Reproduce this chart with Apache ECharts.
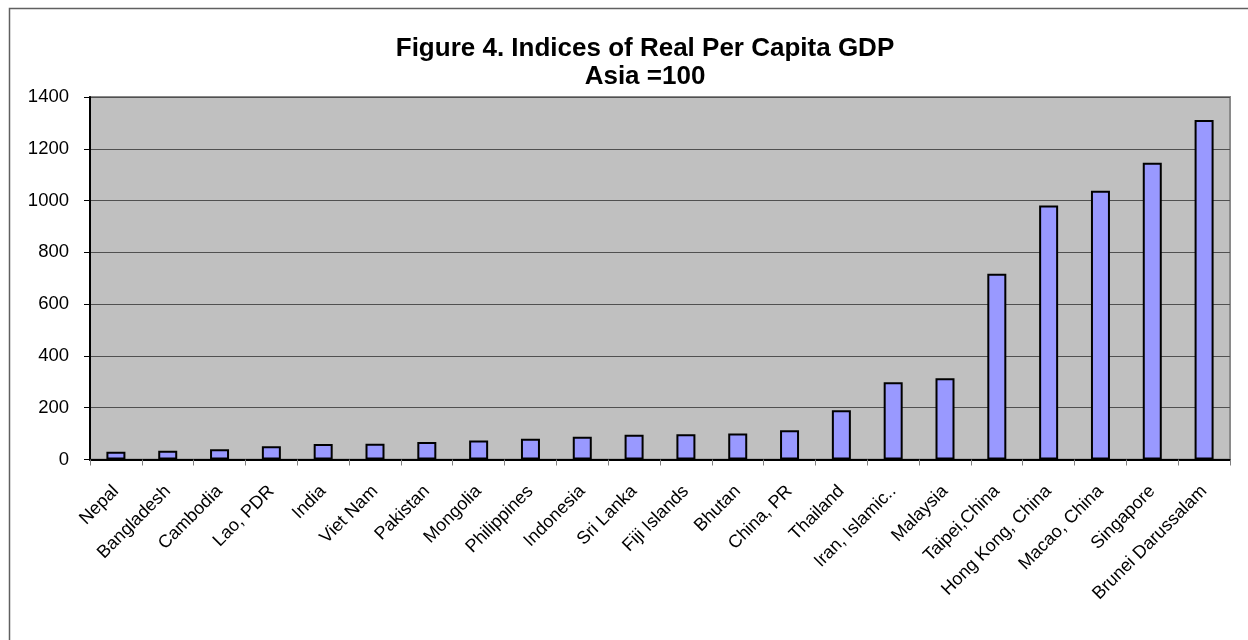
<!DOCTYPE html>
<html>
<head>
<meta charset="utf-8">
<script src="https://cdn.jsdelivr.net/npm/echarts@6/dist/echarts.min.js"></script>
<style>
  html, body { margin: 0; padding: 0; background: #ffffff; }
  #chart { width: 1248px; height: 640px; }
</style>
</head>
<body>
<div id="chart"></div>
<script>
// Economies, ordered from lowest to highest index
const categories = [
  'Nepal', 'Bangladesh', 'Cambodia', 'Lao, PDR', 'India', 'Viet Nam',
  'Pakistan', 'Mongolia', 'Philippines', 'Indonesia', 'Sri Lanka',
  'Fiji Islands', 'Bhutan', 'China, PR', 'Thailand', 'Iran, Islamic..',
  'Malaysia', 'Taipei,China', 'Hong Kong, China', 'Macao, China',
  'Singapore', 'Brunei Darussalam'
];

// Real per capita GDP index (Asia = 100)
const gdpIndex = [
  30, 34, 40, 51, 60, 61, 68, 73, 80, 88, 96,
  98, 100, 113, 190, 298, 314, 717, 981, 1038, 1146, 1311
];

// Value axis range
const yMin = 0;
const yMax = 1400;
const yStep = 200;

const FONT = '"Liberation Sans", Arial, sans-serif';

const chart = echarts.init(document.getElementById('chart'), null, { renderer: 'canvas' });

chart.setOption({
  backgroundColor: '#ffffff',
  animation: false,
  title: {
    text: 'Figure 4. Indices of Real Per Capita GDP\nAsia =100',
    left: 640,
    textAlign: 'center',
    top: 30,
    textStyle: {
      fontFamily: FONT,
      fontSize: 26,
      fontWeight: 'bold',
      color: '#000000',
      lineHeight: 28
    }
  },
  graphic: [{
    type: 'rect',
    shape: { x: 9.5, y: 8.5, width: 1400, height: 800 },
    style: { fill: 'none', stroke: '#606060', lineWidth: 1.5 },
    silent: true,
    z: -10
  }],
  grid: {
    left: 90,
    right: 18,
    top: 97,
    bottom: 180.5,
    show: true,
    backgroundColor: '#c0c0c0',
    borderColor: '#8a8a8a',
    borderWidth: 2
  },
  xAxis: {
    type: 'category',
    data: categories,
    boundaryGap: true,
    axisLine: { show: true, lineStyle: { color: '#000000', width: 2 } },
    axisTick: { show: true, alignWithLabel: false, length: 6, lineStyle: { color: '#808080', width: 1 } },
    axisLabel: {
      rotate: 45,
      interval: 0,
      margin: 29,
      fontFamily: FONT,
      fontSize: 18,
      color: '#000000'
    },
    splitLine: { show: false }
  },
  yAxis: {
    type: 'value',
    min: yMin,
    max: yMax,
    interval: yStep,
    axisLine: { show: true, lineStyle: { color: '#000000', width: 2 } },
    axisTick: { show: true, length: 6, lineStyle: { color: '#000000', width: 1 } },
    axisLabel: {
      margin: 21,
      fontFamily: FONT,
      fontSize: 18.5,
      color: '#000000',
      formatter: function (v) { return String(v); }
    },
    splitLine: { show: true, lineStyle: { color: '#505050', width: 1 } }
  },
  series: [{
    type: 'bar',
    data: gdpIndex,
    barWidth: 19,
    itemStyle: {
      color: '#9999ff',
      borderColor: '#000000',
      borderWidth: 2
    }
  }]
});
</script>
</body>
</html>
